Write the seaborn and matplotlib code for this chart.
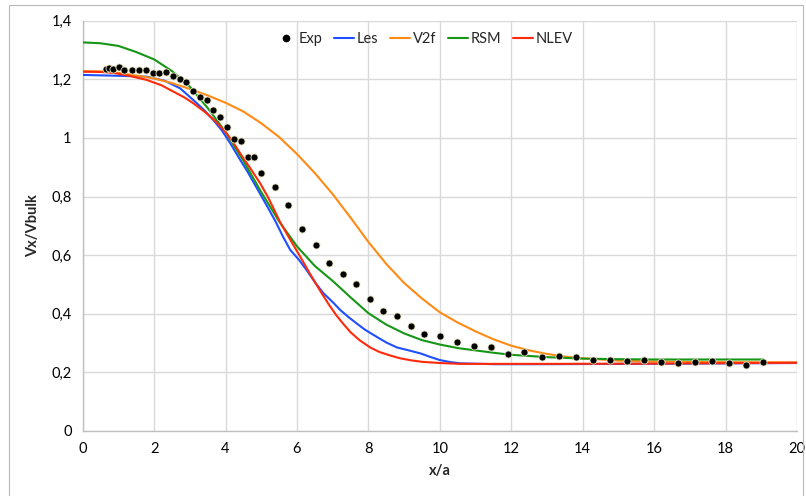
import numpy as np
import pandas as pd
import matplotlib
matplotlib.use("Agg")
import matplotlib.pyplot as plt
import seaborn as sns
from matplotlib.ticker import FuncFormatter
from matplotlib.lines import Line2D
from matplotlib.patches import Rectangle

# ---------------- data ----------------
exp_x = [0.65, 0.75, 0.86, 1.01, 1.17, 1.38, 1.58, 1.77, 1.96, 2.15, 2.33, 2.53, 2.72, 2.90,
         3.10, 3.29, 3.48, 3.66, 3.85, 4.05, 4.24, 4.43, 4.62, 4.81, 4.99, 5.39, 5.76, 6.14,
         6.53, 6.90, 7.28, 7.66, 8.05, 8.42, 8.80, 9.19, 9.57, 10.00, 10.48, 10.95, 11.43,
         11.91, 12.37, 12.86, 13.33, 13.81, 14.29, 14.76, 15.24, 15.72, 16.19, 16.67, 17.14,
         17.62, 18.10, 18.57, 19.05]
exp_y = [1.234, 1.237, 1.234, 1.243, 1.233, 1.233, 1.233, 1.233, 1.220, 1.220, 1.226, 1.212,
         1.201, 1.190, 1.161, 1.138, 1.131, 1.095, 1.070, 1.036, 0.996, 0.988, 0.935, 0.935,
         0.882, 0.832, 0.771, 0.688, 0.635, 0.572, 0.536, 0.500, 0.449, 0.410, 0.392, 0.359,
         0.332, 0.324, 0.305, 0.291, 0.286, 0.264, 0.269, 0.251, 0.256, 0.253, 0.242, 0.242,
         0.239, 0.241, 0.236, 0.233, 0.234, 0.240, 0.231, 0.225, 0.234]

les_x = [0.0, 1.0, 1.8, 2.3, 2.73, 3.10, 3.40, 3.66, 3.90, 4.13, 4.41, 4.60, 4.87, 5.15,
         5.40, 5.60, 5.81, 6.05, 6.27, 6.50, 6.74, 7.00, 7.21, 7.45, 7.67, 7.90, 8.14, 8.50,
         8.80, 9.10, 9.45, 9.75, 10.0, 10.30, 10.57, 11.5, 13.0, 15.0, 17.0, 20.0]
les_y = [1.215, 1.212, 1.209, 1.195, 1.169, 1.129, 1.095, 1.061, 1.025, 0.982, 0.925, 0.888,
         0.830, 0.770, 0.715, 0.665, 0.618, 0.585, 0.549, 0.508, 0.470, 0.440, 0.413, 0.388,
         0.367, 0.346, 0.328, 0.302, 0.285, 0.276, 0.265, 0.252, 0.242, 0.235, 0.231, 0.228,
         0.228, 0.229, 0.230, 0.232]

v2f_x = [0.0, 0.5, 1.0, 1.5, 2.0, 2.5, 3.0, 3.5, 4.0, 4.5, 5.0, 5.5, 6.0, 6.5, 7.0, 7.5,
         8.0, 8.5, 9.0, 9.5, 10.0, 10.5, 11.0, 11.5, 12.0, 12.5, 13.0, 13.5, 14.0, 14.5,
         15.0, 16.0, 17.0, 18.0, 20.0]
v2f_y = [1.228, 1.227, 1.222, 1.213, 1.203, 1.187, 1.167, 1.145, 1.120, 1.090, 1.050, 1.003,
         0.945, 0.880, 0.808, 0.728, 0.645, 0.570, 0.505, 0.452, 0.405, 0.370, 0.340, 0.313,
         0.291, 0.275, 0.263, 0.254, 0.248, 0.244, 0.240, 0.237, 0.236, 0.235, 0.234]

rsm_x = [0.0, 0.5, 1.0, 1.5, 2.0, 2.5, 3.0, 3.5, 4.0, 4.5, 5.0, 5.5, 6.0, 6.5, 7.0, 7.5,
         8.0, 8.5, 9.0, 9.5, 10.0, 10.5, 11.0, 11.5, 12.0, 13.0, 14.0, 15.0, 16.0, 19.05]
rsm_y = [1.326, 1.323, 1.314, 1.293, 1.268, 1.228, 1.175, 1.102, 1.020, 0.922, 0.815, 0.715,
         0.630, 0.563, 0.512, 0.456, 0.402, 0.363, 0.333, 0.310, 0.295, 0.283, 0.275, 0.267,
         0.260, 0.252, 0.247, 0.245, 0.244, 0.244]

nlev_x = [0.0, 0.5, 0.86, 1.3, 1.79, 2.2, 2.54, 2.85, 3.10, 3.47, 3.75, 4.03, 4.25, 4.45,
          4.70, 4.97, 5.20, 5.34, 5.53, 5.80, 6.09, 6.37, 6.65, 6.90, 7.10, 7.30, 7.50, 7.75,
          8.05, 8.30, 8.60, 8.89, 9.20, 9.50, 10.0, 10.57, 13.0, 16.0, 20.0]
nlev_y = [1.226, 1.225, 1.222, 1.212, 1.198, 1.180, 1.158, 1.138, 1.118, 1.084, 1.053, 1.016,
          0.978, 0.940, 0.895, 0.845, 0.795, 0.760, 0.712, 0.655, 0.595, 0.535, 0.478, 0.430,
          0.395, 0.365, 0.337, 0.310, 0.285, 0.270, 0.258, 0.248, 0.241, 0.236, 0.232, 0.229,
          0.229, 0.230, 0.233]

x_ticks = [0, 2, 4, 6, 8, 10, 12, 14, 16, 18, 20]
y_ticks = [0, 0.2, 0.4, 0.6, 0.8, 1.0, 1.2, 1.4]

series = ["Exp", "Les", "V2f", "RSM", "NLEV"]
colors = {"Les": "#1f4fff", "V2f": "#ff8a14", "RSM": "#169616", "NLEV": "#ff2a0a"}

# ---------------- figure ----------------
sns.set_theme(style="white")
plt.rcParams["font.family"] = ["Lato", "DejaVu Sans"]

fig = plt.figure(figsize=(8.06, 4.96), dpi=100)
ax = fig.add_axes([82.7 / 806, 1 - 431 / 496, (797 - 82.7) / 806, (431 - 20.7) / 496])

# outer chart border
fig.patches.append(Rectangle((9 / 806, -0.02), (803 - 9) / 806, 1 - 5 / 496 + 0.02,
                             transform=fig.transFigure, fill=False,
                             edgecolor="#b8b8b8", linewidth=0.8))

line_frames = {
    "Les": pd.DataFrame({"x": les_x, "y": les_y}),
    "V2f": pd.DataFrame({"x": v2f_x, "y": v2f_y}),
    "RSM": pd.DataFrame({"x": rsm_x, "y": rsm_y}),
    "NLEV": pd.DataFrame({"x": nlev_x, "y": nlev_y}),
}
for name in ["Les", "V2f", "RSM", "NLEV"]:
    sns.lineplot(data=line_frames[name], x="x", y="y", ax=ax, color=colors[name],
                 linewidth=1.5, sort=False, estimator=None, legend=False, zorder=3)

exp_df = pd.DataFrame({"x": exp_x, "y": exp_y})
sns.scatterplot(data=exp_df, x="x", y="y", ax=ax, color="black", s=26,
                edgecolor="#e8e4c0", linewidth=0.6, legend=False, zorder=4)

ax.set_xlim(0, 20)
ax.set_ylim(0, 1.4)
ax.set_xticks(x_ticks)
ax.set_yticks(y_ticks)
ax.yaxis.set_major_formatter(FuncFormatter(lambda v, p: ("%g" % round(v, 1)).replace(".", ",")))
ax.grid(True, color="#d9d9d9", linewidth=1.0)
ax.set_axisbelow(True)
for s in ["top", "right"]:
    ax.spines[s].set_visible(False)
for s in ["left", "bottom"]:
    ax.spines[s].set_color("#bfbfbf")
    ax.spines[s].set_linewidth(1.0)
ax.tick_params(axis="both", length=0, labelsize=10.5, colors="black", pad=8)
ax.set_xlabel("x/a", fontsize=10.5, fontweight="bold", labelpad=6)
ax.set_ylabel("Vx/Vbulk", fontsize=10.5, fontweight="bold", labelpad=8)

handles = [Line2D([], [], linestyle="none", marker="o", color="black", markersize=4.5)]
for name in ["Les", "V2f", "RSM", "NLEV"]:
    handles.append(Line2D([], [], color=colors[name], linewidth=1.5))
ax.legend(handles, series, ncol=5, loc="upper center", bbox_to_anchor=(0.478, 1.005),
          frameon=False, fontsize=10.5, handlelength=1.4, handletextpad=0.15,
          columnspacing=0.8)

fig.savefig("out.png", dpi=100)
